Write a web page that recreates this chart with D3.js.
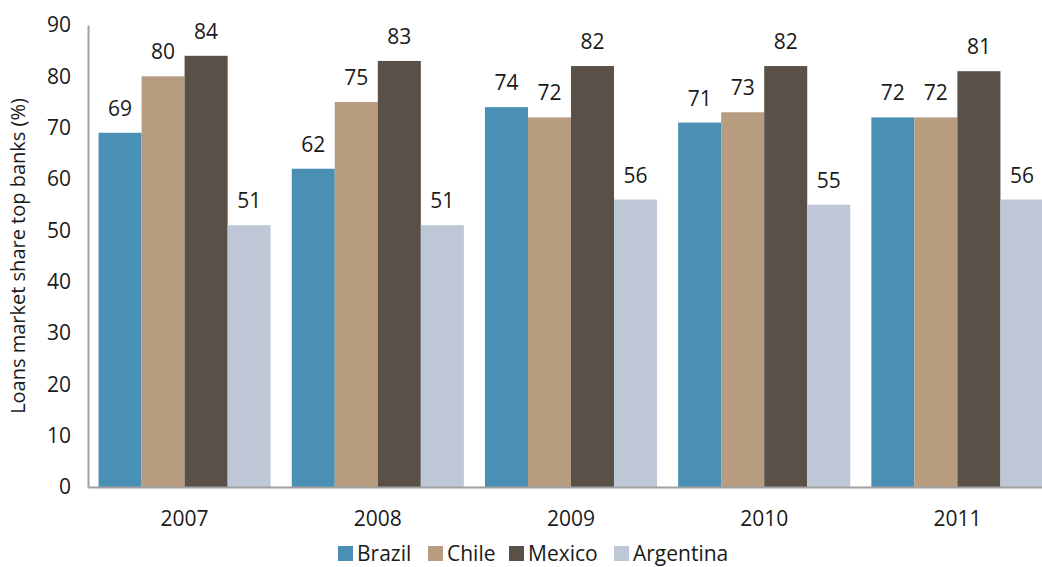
<!DOCTYPE html>
<html>
<head>
<meta charset="utf-8">
<script src="https://cdn.jsdelivr.net/npm/d3@7"></script>
<style>
  body { margin: 0; background: #fff; }
  text { font-family: "Open Sans", "Noto Sans", sans-serif; fill: #1a1a1a; }
</style>
</head>
<body>
<svg id="chart"></svg>
<script>
var years = ["2007", "2008", "2009", "2010", "2011"];
var countries = ["Brazil", "Chile", "Mexico", "Argentina"];
var brazil = [69, 62, 74, 71, 72];
var chile = [80, 75, 72, 73, 72];
var mexico = [84, 83, 82, 82, 81];
var argentina = [51, 51, 56, 55, 56];
var yTicks = [0, 10, 20, 30, 40, 50, 60, 70, 80, 90];

var series = [brazil, chile, mexico, argentina];
var colors = ["#4a90b5", "#b89c80", "#595047", "#bec7d5"];

var width = 1042, height = 567;
var plotLeft = 88, plotRight = 1054, plotTop = 25, plotBottom = 487;
var fontSize = '21px';

var chart = d3.select('#chart')
  .attr('width', width)
  .attr('height', height);

var xScale = d3.scaleBand()
  .domain(years)
  .range([plotLeft, plotRight])
  .paddingInner(0)
  .paddingOuter(0);

var inner = d3.scaleBand()
  .domain(countries)
  .range([0, xScale.bandwidth()])
  .paddingOuter(0.245)
  .paddingInner(0);

var yScale = d3.scaleLinear()
  .domain([0, 90])
  .range([plotBottom, plotTop]);

// bars, one group per year
var groups = chart.append('g')
  .selectAll('g')
  .data(years)
  .enter().append('g')
  .attr('transform', function(d) { return 'translate(' + xScale(d) + ',0)'; });

groups.selectAll('rect')
  .data(function(d, i) {
    return countries.map(function(c, j) { return {country: c, value: series[j][i], k: j}; });
  })
  .enter().append('rect')
  .attr('x', function(d) { return inner(d.country); })
  .attr('y', function(d) { return yScale(d.value); })
  .attr('width', inner.bandwidth())
  .attr('height', function(d) { return plotBottom - yScale(d.value); })
  .attr('fill', function(d) { return colors[d.k]; });

groups.selectAll('text.val')
  .data(function(d, i) {
    return countries.map(function(c, j) { return {country: c, value: series[j][i]}; });
  })
  .enter().append('text')
  .attr('class', 'val')
  .attr('x', function(d) { return inner(d.country) + inner.bandwidth() / 2; })
  .attr('y', function(d) { return yScale(d.value) - 17; })
  .attr('text-anchor', 'middle')
  .style('font-size', fontSize)
  .text(function(d) { return d.value; });

// axes
var yAxis = chart.append('g')
  .attr('transform', 'translate(' + plotLeft + ',0)')
  .call(d3.axisLeft(yScale).tickValues(yTicks).tickSize(0).tickPadding(17));
yAxis.select('.domain').attr('stroke', '#a0a0a0').attr('stroke-width', 2);
yAxis.selectAll('text').style('font-size', fontSize).attr('fill', '#1a1a1a');

var xAxis = chart.append('g')
  .attr('transform', 'translate(0,' + plotBottom + ')')
  .call(d3.axisBottom(xScale).tickSize(0).tickPadding(24));
xAxis.select('.domain').attr('stroke', '#a0a0a0').attr('stroke-width', 2);
xAxis.selectAll('text').style('font-size', fontSize).attr('fill', '#1a1a1a');

chart.append('text')
  .attr('transform', 'translate(25,' + ((plotTop + plotBottom) / 2) + ') rotate(-90)')
  .attr('text-anchor', 'middle')
  .style('font-size', '20px')
  .text('Loans market share top banks (%)');

// legend
var legendX = [338, 428, 509, 614];
var legend = chart.append('g').selectAll('g')
  .data(countries)
  .enter().append('g')
  .attr('transform', function(d, i) { return 'translate(' + legendX[i] + ',546)'; });

legend.append('rect')
  .attr('width', 15)
  .attr('height', 15)
  .attr('fill', function(d, i) { return colors[i]; });

legend.append('text')
  .attr('x', 19)
  .attr('y', 15)
  .style('font-size', fontSize)
  .text(function(d) { return d; });
</script>
</body>
</html>
